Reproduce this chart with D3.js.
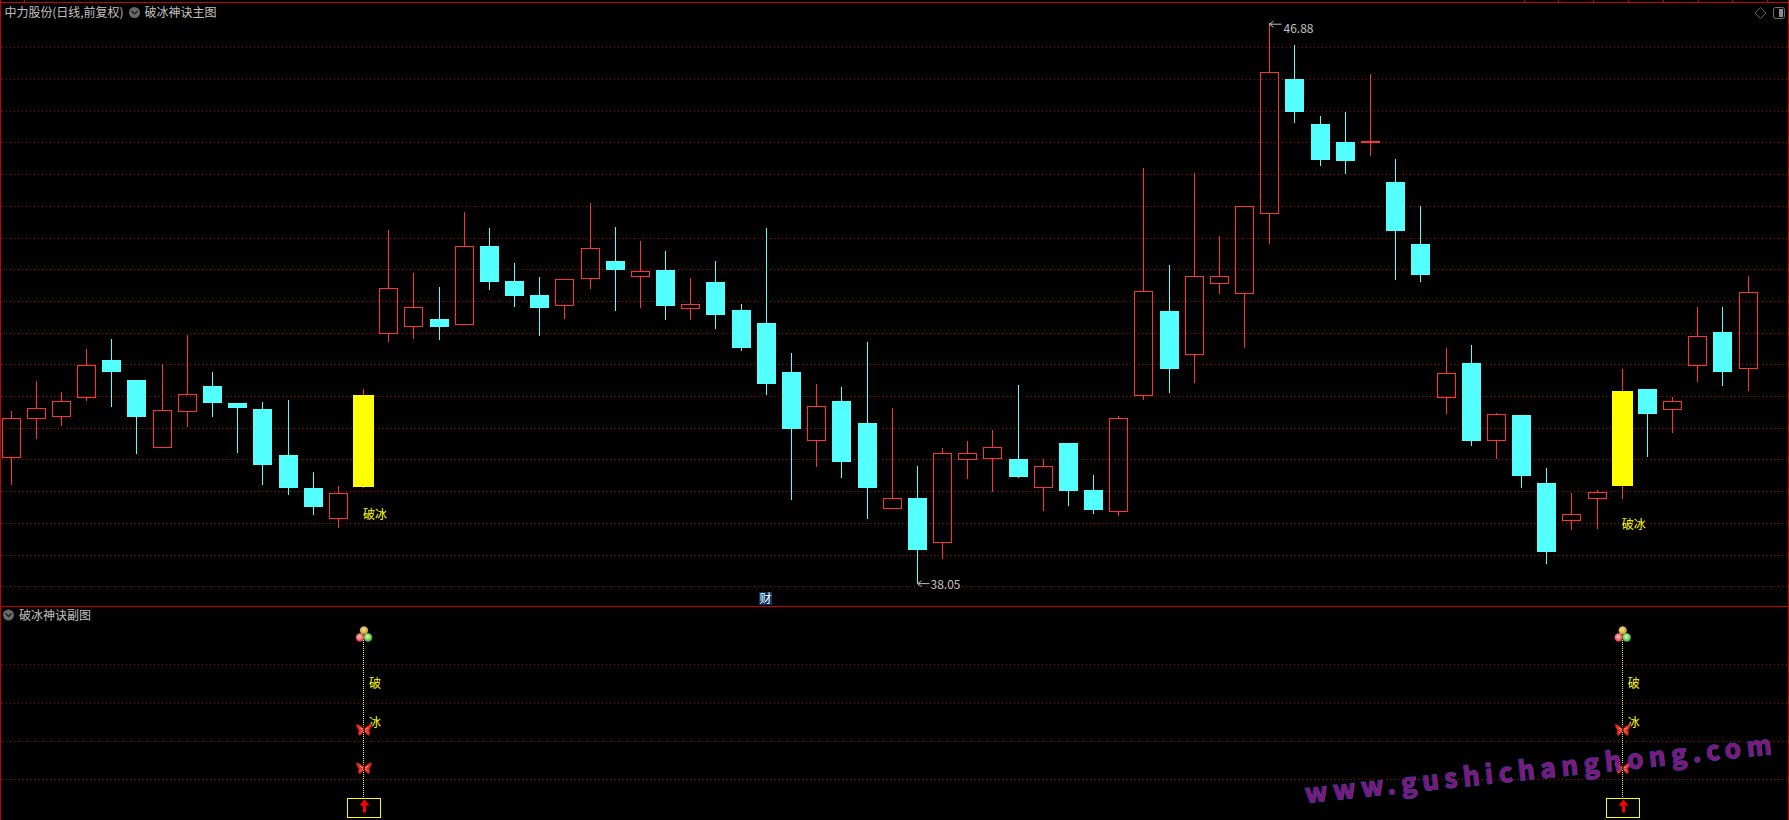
<!DOCTYPE html>
<html><head><meta charset="utf-8">
<style>html,body{margin:0;padding:0;background:#000;overflow:hidden}svg{display:block}
text{font-family:"Noto Sans CJK SC","DejaVu Sans",sans-serif}</style>
<script src="https://cdn.jsdelivr.net/npm/d3@7/dist/d3.min.js"></script>
</head><body><div id="chart"></div>
<script>
const open=[40.04,40.66,40.69,40.99,41.57,41.25,40.20,40.77,41.16,40.89,40.80,40.07,39.55,39.08,39.57,41.99,42.11,42.22,42.13,43.37,42.81,42.59,42.44,42.86,43.13,42.90,42.99,42.39,42.80,42.36,42.15,41.38,40.30,40.92,40.58,39.24,39.39,38.70,40.00,40.03,40.01,39.57,40.26,39.52,39.19,41.02,42.34,41.67,42.79,42.63,43.88,46.00,45.29,45.01,45.00,44.38,43.40,40.99,41.52,40.30,40.70,39.63,39.05,39.40,39.58,41.11,40.80,41.49,42.01,41.45];
const close=[40.65,40.81,40.92,41.49,41.38,40.67,40.78,41.04,40.89,40.81,39.91,39.55,39.25,39.47,41.02,42.70,42.40,42.09,43.36,42.80,42.58,42.39,42.84,43.33,42.99,42.98,42.42,42.45,42.28,41.76,41.19,40.48,40.85,39.96,39.55,39.40,38.57,40.11,40.11,40.19,39.72,39.89,39.50,39.20,40.65,42.65,41.43,42.89,42.90,43.99,46.11,45.48,44.72,44.71,45.03,43.60,42.91,41.36,40.29,40.71,39.74,38.54,39.14,39.48,41.08,40.72,40.92,41.94,41.38,42.64];
const high=[40.76,41.24,41.06,41.74,41.90,41.25,41.50,41.96,41.38,40.89,40.91,40.94,39.80,39.58,41.11,43.62,42.94,42.72,43.90,43.65,43.10,42.88,42.84,44.04,43.67,43.45,43.29,42.86,43.13,42.45,43.65,41.68,41.19,41.14,41.85,40.81,39.90,40.18,40.29,40.46,41.17,40.01,40.26,39.76,40.69,44.60,43.07,44.52,43.52,43.99,46.88,46.54,45.42,45.48,46.08,44.74,44.00,41.76,41.81,40.73,40.70,39.87,39.47,39.52,41.43,41.11,40.99,42.40,42.40,42.89];
const low=[39.60,40.33,40.53,40.93,40.82,40.08,40.20,40.52,40.67,40.10,39.60,39.44,39.12,38.92,39.55,41.86,41.90,41.88,42.13,42.67,42.41,41.94,42.22,42.69,42.34,42.39,42.20,42.20,42.06,41.71,41.02,39.36,39.88,39.71,39.06,39.22,38.05,38.43,39.69,39.49,39.71,39.19,39.27,39.14,39.11,40.94,41.05,41.21,42.61,41.76,43.40,45.31,44.63,44.50,44.79,42.83,42.80,40.72,40.21,40.01,39.55,38.35,38.89,38.90,39.38,40.04,40.42,41.22,41.16,41.08];
const signalIndex=[14,64];
const signalLabelPrice=[39.15,38.99];
const priceTicks=[38,38.5,39,39.5,40,40.5,41,41.5,42,42.5,43,43.5,44,44.5,45,45.5,46,46.5];
const subTicks=[1,2,3,4];
const butterflyLevels=[1.3,2.3];
const titleMain="中力股份(日线,前复权)";
const titleFormula="破冰神诀主图";
const titleSub="破冰神诀副图";
const signalLabel="破冰";
const watermark="www.gushichanghong.com";

const W=1789,H=820;
const RED="#ff3232",CYAN="#54ffff",YEL="#ffff00",GRID="#b00000",EDGE="#c80000",GREY="#c0c0c0";
const svg=d3.select("#chart").append("svg").attr("width",W).attr("height",H).style("background","#000");
const x=d3.scaleLinear().domain([0,69]).range([10.6,1747.6]);
const y=d3.scaleLinear().domain([38,46.5]).range([586.3,47.3]);
const ySub=d3.scaleLinear().domain([1,4]).range([779.3,664.3]);
const px=v=>Math.round(v);

const defs=svg.append("defs");
[["ballY","#ffe89a","#b88a20"],["ballR","#ffc8c8","#d83030"],["ballG","#d8ffc0","#40b028"]].forEach(([id,a,b])=>{
  const g=defs.append("radialGradient").attr("id",id).attr("cx","45%").attr("cy","40%").attr("r","60%");
  g.append("stop").attr("offset","0%").attr("stop-color",a);
  g.append("stop").attr("offset","100%").attr("stop-color",b);
});

// grid
const gridG=svg.append("g").attr("stroke",GRID).attr("stroke-dasharray","1 3").attr("shape-rendering","crispEdges");
const gridLine=(ys)=>gridG.selectAll(null).data(ys).join("line").attr("x1",2).attr("x2",W-2)
  .attr("y1",d=>px(d)+.5).attr("y2",d=>px(d)+.5);
gridLine(priceTicks.map(y));
gridLine(subTicks.map(ySub));

// frame
const frame=svg.append("g").attr("stroke",EDGE).attr("shape-rendering","crispEdges");
frame.append("line").attr("x1",0).attr("x2",W).attr("y1",2.5).attr("y2",2.5);
frame.append("line").attr("x1",0).attr("x2",W).attr("y1",606.5).attr("y2",606.5);
frame.append("line").attr("x1",.5).attr("x2",.5).attr("y1",0).attr("y2",H);
frame.append("line").attr("x1",W-.5).attr("x2",W-.5).attr("y1",0).attr("y2",H);
frame.selectAll(null).data([24,1524,1558,1593,1628,1663,1698,1732,1767]).join("line")
  .attr("x1",d=>d+.5).attr("x2",d=>d+.5).attr("y1",0).attr("y2",2);

// candles
const data=open.map((o,i)=>({i,o,c:close[i],h:high[i],l:low[i],sig:signalIndex.includes(i),up:close[i]>=o}));
const cg=svg.append("g").attr("shape-rendering","crispEdges");
const cand=cg.selectAll("g").data(data).join("g");
const wick=(sel,from,to)=>sel.append("line").attr("x1",d=>px(x(d.i))+.5).attr("x2",d=>px(x(d.i))+.5)
  .attr("y1",d=>px(y(from(d)))).attr("y2",d=>px(y(to(d))))
  .attr("stroke",d=>d.up?RED:CYAN);
wick(cand,d=>d.h,d=>Math.max(d.o,d.c));
wick(cand,d=>Math.min(d.o,d.c),d=>d.l);
cand.filter(d=>d.up&&!d.sig).append("rect")
  .attr("x",d=>px(x(d.i))-9+.5).attr("width",18)
  .attr("y",d=>px(y(d.c))+.5).attr("height",d=>Math.max(1,px(y(d.o))-px(y(d.c))))
  .attr("fill","none").attr("stroke",RED);
cand.filter(d=>!d.up).append("rect")
  .attr("x",d=>px(x(d.i))-9).attr("width",19)
  .attr("y",d=>px(y(d.o))).attr("height",d=>px(y(d.c))-px(y(d.o)))
  .attr("fill",CYAN);
cand.filter(d=>d.sig).append("rect")
  .attr("x",d=>px(x(d.i))-10).attr("width",21)
  .attr("y",d=>px(y(d.c))).attr("height",d=>px(y(d.o))-px(y(d.c)))
  .attr("fill",YEL);

// signal labels on the price panel
svg.selectAll(null).data(signalIndex).join("text")
  .attr("x",d=>x(d)).attr("y",(d,k)=>y(signalLabelPrice[k])+5.5)
  .attr("font-size",12).attr("fill",YEL).text(signalLabel);

// extreme labels
const hi=d3.max(high),lo=d3.min(low),hiI=high.indexOf(hi),loI=low.indexOf(lo);
const mark=(i,p,dy,tx,ty)=>{
  const gx=px(x(i))+.5,gy=y(p)+dy;
  const g=svg.append("g").attr("stroke",GREY).attr("fill","none");
  g.append("path").attr("d",`M${gx} ${gy}L${gx+12} ${gy+(dy<0?3:0)}M${gx} ${gy}l4 -3M${gx} ${gy}l4 3`);
  svg.append("text").attr("x",gx+tx).attr("y",gy+ty).attr("font-size",12)
    .attr("font-family","DejaVu Sans").attr("fill",GREY).attr("textLength",30).text(p.toFixed(2));
};
mark(hiI,hi,1,14,8.5);
mark(loI,lo,0.5,13,5.5);

// badge
const badgeX=px(x(30));
svg.append("rect").attr("x",badgeX-7).attr("y",592).attr("width",13).attr("height",13).attr("fill","#0a3468");
svg.append("text").attr("x",badgeX-.5).attr("y",603).attr("text-anchor","middle").attr("font-size",12).attr("fill","#fff").text("财");

// sub panel signals
const sg=svg.selectAll(".sig").data(signalIndex).join("g").attr("class","sig");
sg.append("line").attr("x1",d=>px(x(d))+.5).attr("x2",d=>px(x(d))+.5)
  .attr("y1",ySub(4.63)).attr("y2",ySub(0.52)).attr("stroke",YEL).attr("stroke-dasharray","1 1").attr("shape-rendering","crispEdges");
sg.append("rect").attr("x",d=>px(x(d))-15.5).attr("width",33)
  .attr("y",px(ySub(0.5))+.5).attr("height",19).attr("fill","none").attr("stroke",YEL).attr("shape-rendering","crispEdges");
sg.append("path").attr("fill","#ff0000")
  .attr("d",d=>{const c=px(x(d))+1.5,t=px(ySub(0.5))+1.5;return `M${c} ${t}l5 6h-3.5v7h-3v-7h-3.5z`;});
// balls
const ballL=4.79;
[["ballY",1,-3.5],["ballR",-3,3.5],["ballG",5,3.5]].forEach(([id,dx,dy])=>{
  sg.append("circle").attr("cx",d=>x(d)+dx).attr("cy",ySub(ballL)+dy).attr("r",4.2).attr("fill",`url(#${id})`);
});
// texts
sg.append("text").attr("x",d=>x(d)+6).attr("y",ySub(3.5)+5).attr("font-size",12).attr("fill",YEL).text(signalLabel[0]);
sg.append("text").attr("x",d=>x(d)+6).attr("y",ySub(2.5)+5).attr("font-size",12).attr("fill",YEL).text(signalLabel[1]);
// butterflies
const wing="M0 0C-2 -3 -5 -5 -8 -5C-7 -2 -6 0 -5 1C-6 2 -6 5 -5 6C-3 6 -1 3 0 0C1 3 3 6 5 6C6 5 6 2 5 1C6 0 7 -2 8 -5C5 -5 2 -3 0 0Z";
butterflyLevels.forEach(l=>{
  const b=sg.append("g").attr("transform",d=>`translate(${x(d)+1},${ySub(l)})`);
  b.append("path").attr("d",wing).attr("fill","#ef3226").attr("stroke","#8a1408").attr("stroke-width",.6);
  b.append("path").attr("d","M-4 -1.5L-1 0M4 -1.5L1 0M-3 3L-1 1M3 3L1 1").attr("stroke","#ffb0a0").attr("stroke-width",.8).attr("fill","none");
  b.append("path").attr("d","M0 2L0 -3M0 -3L-2 -6M0 -3L2 -6").attr("stroke","#301008").attr("stroke-width",.9).attr("fill","none");
});

// headers
const head=(tx,ty,t)=>svg.append("text").attr("x",tx).attr("y",ty).attr("font-size",12).attr("fill",GREY).text(t);
head(4.5,17,titleMain).attr("textLength",119);
head(144.5,17,titleFormula);
head(19,619.5,titleSub);
const chev=(cx,cy)=>{
  svg.append("circle").attr("cx",cx).attr("cy",cy).attr("r",5.5).attr("fill","#686868");
  svg.append("path").attr("d",`M${cx-3} ${cy-1.5}L${cx} ${cy+1.5}L${cx+3} ${cy-1.5}`).attr("fill","none").attr("stroke","#1c1c1c").attr("stroke-width",1.2);
};
chev(134.5,12.5);chev(8.5,615);
svg.append("path").attr("d","M1760.5 7.5l5.5 5.5l-5.5 5.5l-5.5 -5.5z").attr("fill","none").attr("stroke","#5c5c5c");
svg.append("rect").attr("x",1773.5).attr("y",7.5).attr("width",11).attr("height",11).attr("rx",2).attr("fill","none").attr("stroke","#707070");
svg.append("rect").attr("x",1779).attr("y",9).attr("width",4).attr("height",8).attr("fill","#8c8c8c");

// watermark
svg.append("text").attr("transform","translate(1306,803) rotate(-6)")
  .attr("font-family","Open Sans").attr("font-size",26).attr("font-weight",600)
  .attr("textLength",469).attr("lengthAdjust","spacing")
  .attr("fill","#8e1a88").attr("stroke","#3a45a8").attr("stroke-width",1.4).attr("paint-order","stroke")
  .attr("opacity",.9).text(watermark);
</script></body></html>
